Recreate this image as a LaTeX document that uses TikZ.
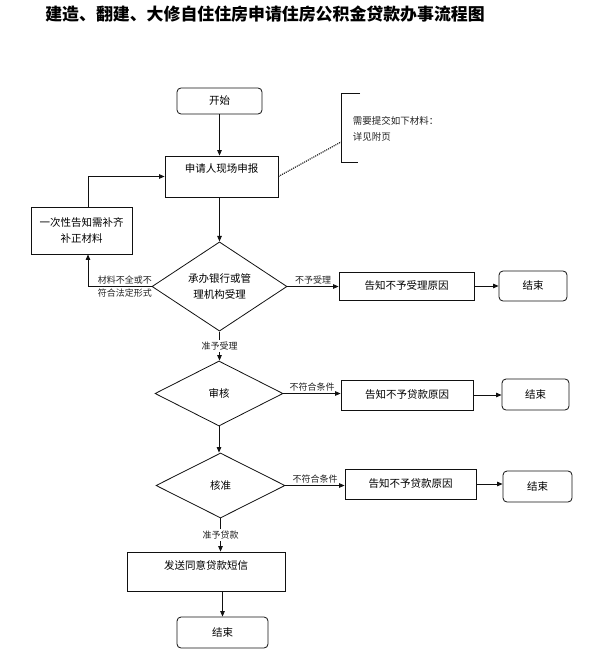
\documentclass[tikz,border=0pt]{standalone}
\usepackage{fontspec}
\newfontfamily\cjk{Noto Sans CJK SC}
\usetikzlibrary{arrows.meta,shapes.geometric}
\definecolor{lnblack}{HTML}{111111}
\definecolor{txgray}{HTML}{222222}

\begin{document}
\begin{tikzpicture}[>={Triangle[length=5.5pt,width=4.5pt]},font=\cjk,x=1pt,y=-1pt,
  line width=0.8pt,
  box/.style={draw=lnblack,rectangle,inner sep=2pt,font=\cjk\fontsize{10.5}{14}\selectfont},
  endbox/.style={box,rounded corners=4pt},
  decide/.style={draw=lnblack,diamond,inner sep=0pt,align=center,font=\cjk\fontsize{10.5}{16.5}\selectfont},
  lbl/.style={font=\cjk\fontsize{9}{11}\selectfont,inner sep=1.5pt,text=txgray}]

  \useasboundingbox (0,0) rectangle (592,660);

  % --- title ---
  \node[font=\cjk\bfseries\fontsize{16.9}{20}\selectfont] (title) at (265,14)
        {建造、翻建、大修自住住房申请住房公积金贷款办事流程图};

  % --- main column ---
  \node[endbox,minimum width=85pt,minimum height=26pt] (start) at (219.5,101) {开始};
  \node[box,minimum width=113pt,text height=13pt,text depth=20pt,inner ysep=4pt]
        (apply) at (221.5,176.5) {申请人现场申报};
  \node[decide,minimum width=135pt,minimum height=77pt] (accept) at (219.5,286.5)
        {承办银行或管\\理机构受理};
  \node[decide,minimum width=128pt,minimum height=65pt] (review) at (219,393.5) {审核};
  \node[decide,minimum width=129pt,minimum height=65pt] (approve) at (220.5,485.5) {核准};
  \node[box,minimum width=158pt,text height=13pt,text depth=18pt,inner ysep=4pt]
        (sms) at (206,571.5) {发送同意贷款短信};
  \node[endbox,minimum width=91pt,minimum height=31pt] (endf) at (222.5,632.5) {结束};

  % --- left: supplement loop ---
  \node[box,minimum width=101pt,minimum height=47pt,align=center,
        font=\cjk\fontsize{10.5}{16}\selectfont] (notice) at (81.5,230.5)
        {一次性告知需补齐\\补正材料};

  % --- right column ---
  \node[box,minimum width=135pt,minimum height=28pt] (refuse) at (406.5,286) {告知不予受理原因};
  \node[endbox,minimum width=68pt,minimum height=30pt] (end1) at (533,286) {结束};
  \node[box,minimum width=132pt,minimum height=30pt] (reject2) at (407,395) {告知不予贷款原因};
  \node[endbox,minimum width=67pt,minimum height=31pt] (end2) at (535.5,394.5) {结束};
  \node[box,minimum width=131pt,minimum height=30pt] (reject3) at (410.5,484) {告知不予贷款原因};
  \node[endbox,minimum width=69pt,minimum height=31pt] (end3) at (537.5,486.5) {结束};

  % --- note bracket ---
  \draw[lnblack] (360,93) -- (341,93) -- (341,162) -- (358,162);
  \coordinate (brk) at (341,142);
  \node[lbl,font=\cjk\fontsize{9.5}{16}\selectfont,anchor=north west,align=left]
        (memo) at (351,115) {需要提交如下材料：\\详见附页};
  \draw[lnblack,densely dotted,line width=1.1pt] (apply.east) -- (brk);

  % --- connectors ---
  \draw[->,lnblack] (start) -- (start |- apply.north);
  \draw[->,lnblack] (apply.south -| accept.north) -- (accept.north);
  \draw[->,lnblack] (accept.south) -- node[lbl,fill=white] (ok1) {准予受理}
        (accept.south |- review.north);
  \draw[->,lnblack] (review.south) -- (review.south |- approve.north);
  \draw[->,lnblack] (approve.south) -- node[lbl,fill=white] (ok2) {准予贷款}
        (approve.south |- sms.north);
  \draw[->,lnblack] (endf.north |- sms.south) -- (endf.north);

  \draw[->,lnblack] (accept.east) -- node[lbl,above] (no1) {不予受理} (refuse.west |- accept.east);
  \draw[->,lnblack] (review.east) -- node[lbl,above] (no2) {不符合条件} (reject2.west |- review.east);
  \draw[->,lnblack] (approve.east) -- node[lbl,above] (no3) {不符合条件} (reject3.west |- approve.east);
  \draw[->,lnblack] (refuse) -- (end1);
  \draw[->,lnblack] (reject2.east) -- (end2.west |- reject2.east);
  \draw[->,lnblack] (reject3.east) -- (end3.west |- reject3.east);

  \draw[->,lnblack] (accept.west) -- node[lbl,pos=0.42,above] (lack1) {材料不全或不}
        node[lbl,pos=0.42,below] (lack2) {符合法定形式}
        ([xshift=6.5pt]notice.south |- accept.west) -- ([xshift=6.5pt]notice.south);
  \draw[->,lnblack] ([xshift=6.5pt]notice.north) |- (apply.west);

\end{tikzpicture}
\end{document}
